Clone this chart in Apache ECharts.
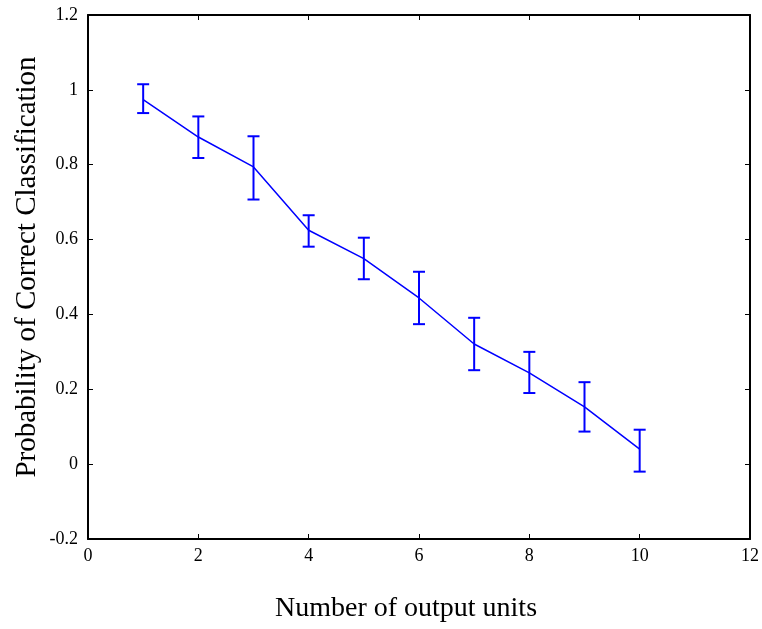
<!DOCTYPE html>
<html>
<head>
<meta charset="utf-8">
<script src="https://cdn.jsdelivr.net/npm/echarts@6/dist/echarts.min.js"></script>
<style>html,body{margin:0;padding:0;background:#fff}#c{width:762px;height:629px}</style>
</head>
<body>
<div id="c"></div>
<script>
var units = [1, 2, 3, 4, 5, 6, 7, 8, 9, 10];
var meanProb = [0.974, 0.874, 0.794, 0.625, 0.549, 0.444, 0.321, 0.244, 0.153, 0.040];
var upperProb = [1.015, 0.929, 0.876, 0.665, 0.605, 0.514, 0.391, 0.300, 0.219, 0.092];
var lowerProb = [0.938, 0.818, 0.707, 0.581, 0.494, 0.374, 0.251, 0.190, 0.087, -0.020];
var xTitle = 'Number of output units';
var yTitle = 'Probability of Correct Classification';

var font = '"Liberation Serif", "DejaVu Serif", serif';
var chart = echarts.init(document.getElementById('c'), null, {renderer: 'canvas'});

var lineData = units.map(function (u, i) { return [u, meanProb[i]]; });
var errData = units.map(function (u, i) { return [u, lowerProb[i], upperProb[i]]; });

function baseAxis(extra) {
  var a = {
    axisLine: {show: true, onZero: false, lineStyle: {color: '#000', width: 2}},
    axisTick: {show: true, inside: true, length: 5, lineStyle: {color: '#000', width: 1}},
    splitLine: {show: false},
    axisLabel: {color: '#000', fontFamily: font, fontSize: 18}
  };
  for (var k in extra) a[k] = extra[k];
  return a;
}

chart.setOption({
  animation: false,
  backgroundColor: '#fff',
  grid: {left: 88, top: 15, right: 9, bottom: 90, containLabel: false},
  graphic: [
    {type: 'text', x: 406, y: 609,
      style: {text: xTitle, fill: '#000', font: '28px ' + font, align: 'center', verticalAlign: 'middle'}},
    {type: 'text', x: 27, y: 267, rotation: Math.PI / 2,
      style: {text: yTitle, fill: '#000', font: '29px ' + font, align: 'center', verticalAlign: 'middle'}}
  ],
  xAxis: [
    baseAxis({type: 'value', min: 0, max: 12, interval: 2, position: 'bottom',
      axisLabel: {color: '#000', fontFamily: font, fontSize: 18, margin: 8}}),
    baseAxis({type: 'value', min: 0, max: 12, interval: 2, position: 'top',
      axisLabel: {show: false}})
  ],
  yAxis: [
    baseAxis({type: 'value', min: -0.2, max: 1.2, interval: 0.2, position: 'left',
      axisLabel: {color: '#000', fontFamily: font, fontSize: 18, margin: 10,
        formatter: function (v) { return String(Math.round(v * 10) / 10); }}}),
    baseAxis({type: 'value', min: -0.2, max: 1.2, interval: 0.2, position: 'right',
      axisLabel: {show: false}})
  ],
  series: [
    {
      type: 'line',
      data: lineData,
      symbol: 'none',
      lineStyle: {color: '#0000ff', width: 1.5},
      z: 3
    },
    {
      type: 'custom',
      data: errData,
      z: 4,
      renderItem: function (params, api) {
        var x = api.value(0);
        var lo = api.coord([x, api.value(1)]);
        var hi = api.coord([x, api.value(2)]);
        var hw = 6;
        var st = {stroke: '#0000ff', lineWidth: 2};
        return {
          type: 'group',
          children: [
            {type: 'line', shape: {x1: lo[0], y1: lo[1], x2: hi[0], y2: hi[1]}, style: st},
            {type: 'line', shape: {x1: lo[0] - hw, y1: lo[1], x2: lo[0] + hw, y2: lo[1]}, style: st},
            {type: 'line', shape: {x1: hi[0] - hw, y1: hi[1], x2: hi[0] + hw, y2: hi[1]}, style: st}
          ]
        };
      }
    }
  ]
});
</script>
</body>
</html>
